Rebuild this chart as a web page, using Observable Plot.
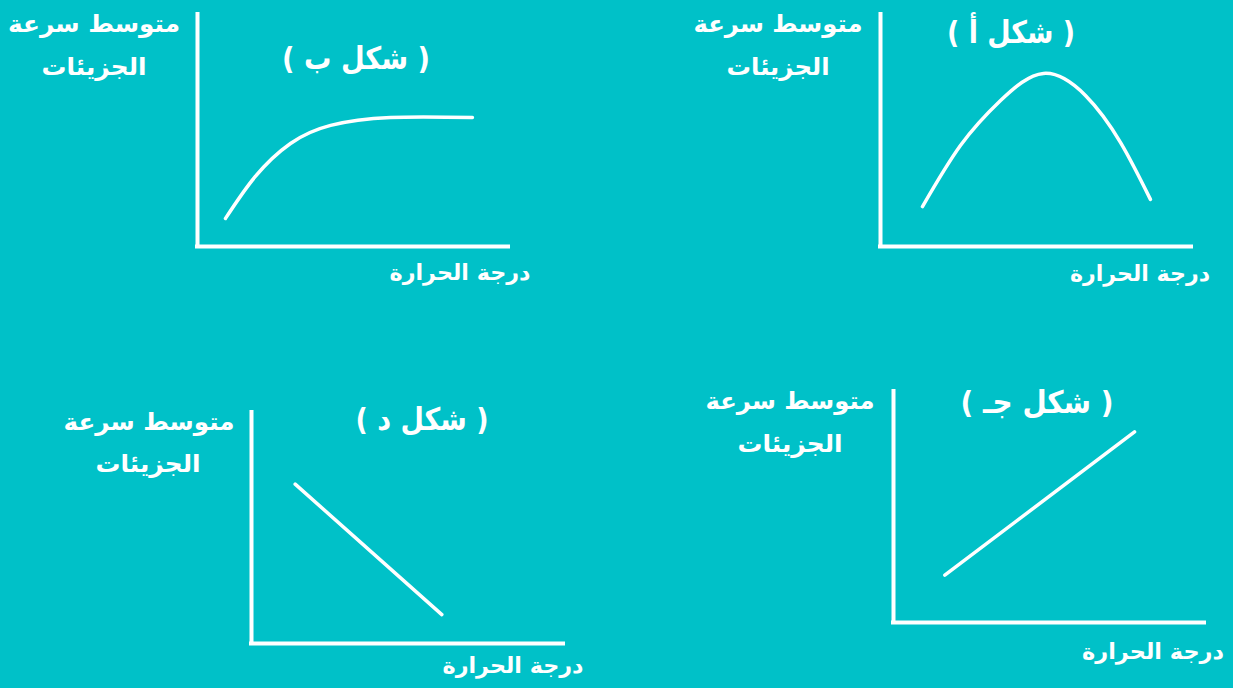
<!DOCTYPE html>
<html lang="ar">
<head>
<meta charset="utf-8">
<script src="https://cdn.jsdelivr.net/npm/d3@7"></script>
<script src="https://cdn.jsdelivr.net/npm/@observablehq/plot@0.6"></script>
<style>
  html, body { margin: 0; padding: 0; background: #ffffff; }
  #stage { position: relative; width: 1233px; height: 688px; background: #00c1c8; overflow: hidden; }
  .panel { position: absolute; }
  #labels { position: absolute; left: 0; top: 0; }
  #labels text { fill: #ffffff; font-family: "DejaVu Sans", "Liberation Sans", sans-serif; font-weight: bold; text-anchor: middle; direction: rtl; unicode-bidi: embed; }
</style>
</head>
<body>
<div id="stage"></div>
<script>
// ---- data (abstract units: temperature 0-10, mean molecular speed 0-10) ----
const titles = ["( شكل أ )", "( شكل ب )", "( شكل جـ )", "( شكل د )"];
const yLabelLine1 = "متوسط سرعة";
const yLabelLine2 = "الجزيئات";
const xLabel = "درجة الحرارة";

// شكل أ : rises then falls
const shapeA_temp  = [1.35, 2.57, 3.86, 5.24, 6.59, 7.72, 8.68];
const shapeA_speed = [1.72, 4.35, 6.29, 7.46, 6.51, 4.48, 2.03];
// شكل ب : rises then levels off
const shapeB_temp  = [0.9, 1.86, 2.99, 4.28, 6.21, 8.84];
const shapeB_speed = [1.21, 3.02, 4.44, 5.22, 5.56, 5.56];
// شكل جـ : increases linearly
const shapeJ_temp  = [1.65, 7.75];
const shapeJ_speed = [2.05, 8.25];
// شكل د : decreases linearly
const shapeD_temp  = [1.4, 6.1];
const shapeD_speed = [6.9, 1.25];

const tempDomain = [0, 10];
const speedDomain = [0, 10];

// ---- layout (pixel boxes of each axis frame, label anchors and widths) ----
const panels = [
  { temp: shapeA_temp, speed: shapeA_speed, curve: "natural", left: 880, top: 14, w: 311, h: 232,
    title: [1011, 43, 128], y1: [778, 32, 169], y2: [778, 75, 103], xl: [1140, 281, 140] },
  { temp: shapeB_temp, speed: shapeB_speed, curve: "natural", left: 197, top: 14, w: 311, h: 232,
    title: [356, 69, 148], y1: [94, 32, 172], y2: [94, 75, 105], xl: [460, 280, 141] },
  { temp: shapeJ_temp, speed: shapeJ_speed, curve: "linear", left: 893, top: 391, w: 311, h: 231,
    title: [1037, 413, 153], y1: [790, 409, 169], y2: [790, 452, 105], xl: [1153, 659, 142] },
  { temp: shapeD_temp, speed: shapeD_speed, curve: "linear", left: 251, top: 412, w: 312, h: 231,
    title: [422, 430, 133], y1: [149, 430, 171], y2: [148, 472, 105], xl: [513, 673, 141] }
];

const stage = document.getElementById("stage");
const pad = 4;

panels.forEach((p) => {
  const rows = p.temp.map((t, k) => ({ temperature: t, speed: p.speed[k] }));
  const chart = Plot.plot({
    width: p.w + 2 * pad,
    height: p.h + 2 * pad,
    marginLeft: pad, marginRight: pad, marginTop: pad, marginBottom: pad,
    style: { background: "transparent", overflow: "visible" },
    x: { domain: tempDomain, axis: null },
    y: { domain: speedDomain, axis: null },
    marks: [
      Plot.ruleX([tempDomain[0]], { stroke: "#ffffff", strokeWidth: 4, strokeLinecap: "square" }),
      Plot.ruleY([speedDomain[0]], { stroke: "#ffffff", strokeWidth: 4, strokeLinecap: "square" }),
      Plot.line(rows, { x: "temperature", y: "speed", curve: p.curve, stroke: "#ffffff", strokeWidth: 3.5 })
    ]
  });
  chart.classList.add("panel");
  chart.style.left = (p.left - pad) + "px";
  chart.style.top = (p.top - pad) + "px";
  stage.appendChild(chart);
});

// ---- text overlay ----
const ns = "http://www.w3.org/2000/svg";
const svg = document.createElementNS(ns, "svg");
svg.setAttribute("id", "labels");
svg.setAttribute("width", 1233);
svg.setAttribute("height", 688);
function addText(str, spec, size) {
  const t = document.createElementNS(ns, "text");
  t.setAttribute("x", spec[0]);
  t.setAttribute("y", spec[1]);
  t.setAttribute("font-size", size);
  t.setAttribute("textLength", spec[2]);
  t.setAttribute("lengthAdjust", "spacingAndGlyphs");
  t.textContent = str;
  svg.appendChild(t);
}
panels.forEach((p, i) => {
  addText(titles[i], p.title, 31);
  addText(yLabelLine1, p.y1, 24);
  addText(yLabelLine2, p.y2, 24);
  addText(xLabel, p.xl, 22);
});
stage.appendChild(svg);
</script>
</body>
</html>
